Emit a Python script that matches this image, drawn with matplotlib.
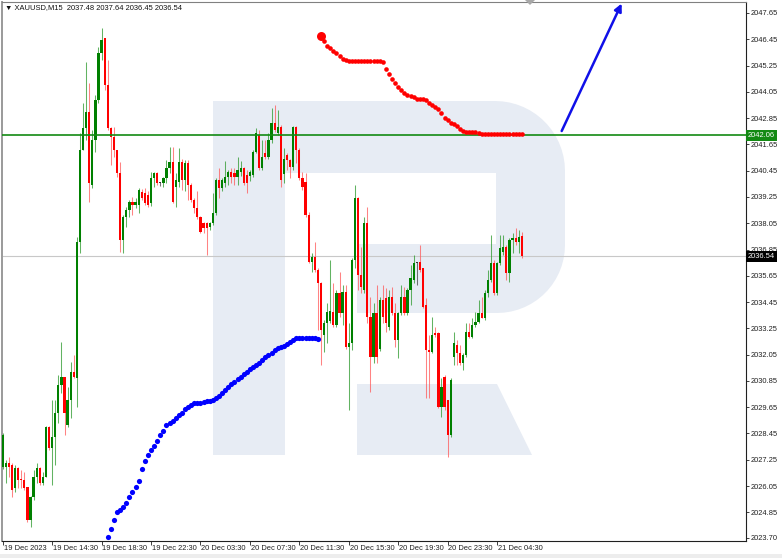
import numpy as np
import matplotlib
matplotlib.use('Agg')
import matplotlib.pyplot as plt
from matplotlib.patches import PathPatch, Polygon, Rectangle
from matplotlib.path import Path
import matplotlib.transforms as mtransforms

plt.rcParams['font.family'] = ['Liberation Sans', 'DejaVu Sans']

# ---------------- data ----------------
symbol_header = "\u25BC XAUUSD,M15  2037.48 2037.64 2036.45 2036.54"

opens = [
    2026.93, 2026.93, 2027.09, 2027.01, 2025.94, 2026.86, 2026.38, 2026.33, 2026.02, 2024.50,
    2025.56, 2026.48, 2026.86, 2026.17, 2026.48, 2028.76, 2027.77, 2028.30, 2029.37, 2030.66,
    2031.04, 2028.84, 2029.98, 2031.27, 2030.97, 2037.21, 2041.39, 2042.38, 2043.14, 2039.80,
    2041.85, 2043.68, 2045.81, 2046.49, 2044.36, 2042.38, 2042.00, 2041.39, 2040.33, 2037.28,
    2038.35, 2038.65, 2039.03, 2038.88, 2038.88, 2039.49, 2039.42, 2039.34, 2038.96, 2040.10,
    2040.33, 2039.87, 2039.87, 2040.10, 2040.56, 2040.86, 2039.72, 2039.95, 2040.86, 2040.02,
    2040.79, 2039.80, 2039.11, 2038.73, 2038.35, 2038.04, 2038.04, 2037.89, 2038.04, 2038.50,
    2040.02, 2039.64, 2039.87, 2040.15, 2040.40, 2040.36, 2040.17, 2040.40, 2040.56, 2040.25,
    2040.21, 2040.25, 2041.32, 2042.08, 2040.56, 2041.24, 2041.09, 2041.85, 2042.61, 2042.16,
    2042.46, 2040.30, 2041.17, 2040.94, 2040.60, 2042.46, 2041.40, 2040.10, 2039.94, 2038.42,
    2036.29, 2036.52, 2035.91, 2035.30, 2032.94, 2033.48, 2033.60, 2034.01, 2033.40, 2034.85,
    2033.94, 2034.93, 2032.41, 2032.56, 2036.37, 2039.18, 2035.68, 2035.00, 2038.04, 2033.78,
    2031.95, 2033.93, 2032.30, 2034.54, 2034.62, 2033.33, 2034.70, 2033.94, 2032.72, 2033.94,
    2034.70, 2033.94, 2035.00, 2035.46, 2036.22, 2036.30, 2035.99, 2034.32, 2032.26, 2032.19,
    2033.03, 2033.03, 2029.68, 2031.05, 2029.98, 2028.38, 2031.96, 2032.49, 2032.11, 2031.65,
    2032.03, 2033.10, 2032.87, 2033.41, 2033.56, 2033.94, 2033.71, 2034.85, 2035.46, 2036.22,
    2034.85, 2036.22, 2036.75, 2036.98, 2035.76, 2037.29, 2037.36, 2037.21, 2037.48]

highs = [
    2028.45, 2027.24, 2027.39, 2027.10, 2027.01, 2026.93, 2026.78, 2026.71, 2026.02, 2025.60,
    2026.78, 2027.09, 2026.93, 2026.71, 2028.80, 2028.80, 2029.98, 2029.98, 2031.12, 2032.64,
    2031.04, 2030.59, 2031.73, 2032.03, 2037.44, 2042.15, 2043.52, 2045.43, 2044.44, 2042.31,
    2043.91, 2046.11, 2046.95, 2046.49, 2045.50, 2042.46, 2042.46, 2041.39, 2040.86, 2038.43,
    2038.81, 2039.11, 2039.26, 2039.19, 2039.64, 2039.60, 2039.64, 2039.50, 2040.40, 2040.40,
    2040.40, 2039.95, 2040.15, 2040.94, 2041.55, 2041.55, 2040.33, 2041.47, 2041.00, 2040.94,
    2040.94, 2039.88, 2039.20, 2039.50, 2038.40, 2038.12, 2038.12, 2038.10, 2039.42, 2040.10,
    2040.55, 2040.10, 2040.91, 2040.48, 2040.56, 2040.56, 2041.09, 2040.90, 2040.60, 2040.48,
    2040.50, 2041.40, 2042.38, 2042.31, 2041.85, 2041.85, 2042.16, 2043.30, 2043.45, 2043.20,
    2042.55, 2041.47, 2041.25, 2041.00, 2042.50, 2042.50, 2041.47, 2040.40, 2040.32, 2038.58,
    2036.67, 2037.20, 2035.99, 2035.38, 2033.63, 2034.40, 2036.37, 2035.30, 2035.00, 2035.84,
    2035.24, 2035.24, 2033.48, 2036.44, 2039.79, 2039.26, 2036.98, 2038.35, 2038.80, 2034.69,
    2034.39, 2035.23, 2034.70, 2035.23, 2035.07, 2035.00, 2035.16, 2034.39, 2034.01, 2035.23,
    2035.16, 2035.10, 2036.14, 2036.60, 2036.30, 2037.06, 2036.00, 2034.62, 2032.95, 2033.79,
    2033.33, 2033.10, 2030.97, 2031.10, 2030.00, 2030.97, 2033.10, 2032.72, 2032.49, 2032.11,
    2033.48, 2033.48, 2033.71, 2034.01, 2034.55, 2034.70, 2035.00, 2035.92, 2037.52, 2036.37,
    2036.30, 2037.52, 2037.52, 2037.05, 2037.36, 2037.59, 2037.82, 2037.74, 2037.64]

lows = [
    2026.85, 2026.17, 2026.48, 2025.56, 2025.79, 2025.94, 2025.94, 2025.87, 2024.42, 2024.19,
    2025.41, 2026.17, 2026.10, 2026.10, 2026.45, 2027.70, 2026.10, 2027.01, 2028.91, 2030.28,
    2028.38, 2028.76, 2029.14, 2030.97, 2029.67, 2036.68, 2041.39, 2041.85, 2039.03, 2039.64,
    2041.32, 2043.52, 2045.50, 2044.13, 2042.31, 2040.71, 2041.09, 2040.18, 2036.75, 2036.68,
    2037.89, 2038.35, 2038.43, 2038.73, 2038.50, 2039.10, 2038.88, 2038.80, 2038.85, 2039.70,
    2039.80, 2039.75, 2039.70, 2039.87, 2040.33, 2038.96, 2038.80, 2039.72, 2039.57, 2039.50,
    2039.11, 2039.03, 2038.50, 2038.25, 2037.59, 2037.59, 2036.60, 2037.75, 2037.97, 2038.43,
    2039.19, 2039.50, 2039.72, 2039.80, 2039.87, 2039.80, 2039.80, 2040.20, 2039.80, 2039.42,
    2040.00, 2040.17, 2041.24, 2040.48, 2040.48, 2041.00, 2041.00, 2041.70, 2042.20, 2042.10,
    2039.72, 2039.90, 2040.48, 2040.10, 2040.50, 2040.78, 2040.02, 2039.56, 2038.35, 2036.22,
    2035.83, 2035.83, 2033.17, 2031.57, 2032.18, 2032.56, 2033.48, 2033.32, 2033.32, 2033.78,
    2033.40, 2032.33, 2029.52, 2032.26, 2035.99, 2035.00, 2034.85, 2034.85, 2033.48, 2030.36,
    2031.65, 2031.65, 2032.20, 2033.48, 2033.10, 2033.18, 2033.86, 2032.42, 2031.88, 2033.86,
    2033.86, 2033.86, 2034.32, 2035.31, 2035.23, 2035.84, 2034.17, 2030.06, 2030.06, 2032.11,
    2032.87, 2029.60, 2029.22, 2029.52, 2027.39, 2028.31, 2031.58, 2031.58, 2031.58, 2031.35,
    2031.96, 2032.80, 2032.80, 2033.33, 2033.48, 2033.70, 2033.63, 2034.70, 2035.38, 2034.78,
    2034.78, 2036.15, 2036.60, 2035.46, 2035.38, 2036.68, 2037.06, 2036.68, 2036.45]

closes = [
    2028.38, 2027.09, 2026.93, 2025.87, 2026.86, 2026.33, 2026.33, 2025.94, 2024.50, 2025.56,
    2026.48, 2026.86, 2026.17, 2026.48, 2028.76, 2027.77, 2028.30, 2029.37, 2030.66, 2031.04,
    2029.37, 2029.98, 2031.27, 2031.04, 2037.21, 2041.39, 2042.38, 2043.14, 2039.87, 2041.85,
    2043.68, 2045.81, 2046.42, 2044.36, 2042.38, 2042.00, 2041.39, 2040.33, 2037.28, 2038.35,
    2038.65, 2039.03, 2038.88, 2039.03, 2039.57, 2039.19, 2038.96, 2038.88, 2040.10, 2040.33,
    2039.87, 2039.87, 2040.10, 2040.56, 2040.86, 2039.03, 2040.02, 2040.86, 2040.02, 2040.79,
    2039.80, 2039.11, 2038.73, 2038.35, 2037.67, 2037.82, 2037.82, 2038.04, 2038.50, 2040.02,
    2039.64, 2040.02, 2040.15, 2040.40, 2040.15, 2040.17, 2040.48, 2040.56, 2039.87, 2039.87,
    2040.40, 2041.32, 2042.16, 2040.56, 2041.09, 2041.09, 2041.85, 2042.61, 2042.31, 2042.46,
    2040.02, 2041.00, 2040.94, 2040.60, 2042.46, 2041.40, 2040.10, 2039.72, 2038.42, 2036.29,
    2036.52, 2035.91, 2035.30, 2033.17, 2033.48, 2034.01, 2034.05, 2033.40, 2034.85, 2033.94,
    2034.93, 2032.41, 2032.56, 2036.37, 2039.18, 2035.68, 2035.15, 2038.04, 2033.78, 2031.95,
    2033.93, 2031.95, 2034.54, 2033.78, 2033.50, 2034.70, 2033.94, 2032.72, 2033.94, 2034.70,
    2033.94, 2035.00, 2035.54, 2036.22, 2036.22, 2035.92, 2034.24, 2032.26, 2032.19, 2032.95,
    2032.95, 2029.68, 2030.59, 2029.68, 2028.38, 2030.89, 2032.57, 2032.11, 2031.65, 2032.03,
    2033.10, 2032.87, 2033.41, 2033.56, 2033.94, 2033.71, 2034.85, 2035.46, 2036.22, 2034.85,
    2036.22, 2036.91, 2036.98, 2035.76, 2037.29, 2037.36, 2037.21, 2037.44, 2036.54]

# blue projection dots (start at bar 34)
blue_start = 34
blue_dots = [
    2023.72, 2024.08, 2024.50, 2024.86, 2024.95, 2025.09, 2025.27, 2025.55, 2025.77, 2026.00,
    2026.28, 2026.82, 2027.19, 2027.46, 2027.69, 2027.87, 2028.10, 2028.38, 2028.56, 2028.83,
    2028.92, 2029.02, 2029.15, 2029.29, 2029.38, 2029.56, 2029.66, 2029.75, 2029.84, 2029.84,
    2029.84, 2029.88, 2029.93, 2029.93, 2029.98, 2030.07, 2030.16, 2030.29, 2030.43, 2030.57,
    2030.71, 2030.80, 2030.93, 2031.03, 2031.16, 2031.25, 2031.39, 2031.48, 2031.57, 2031.66,
    2031.80, 2031.94, 2032.03, 2032.12, 2032.26, 2032.35, 2032.40, 2032.44, 2032.53, 2032.62,
    2032.71, 2032.81, 2032.81, 2032.81, 2032.81, 2032.81, 2032.81, 2032.81, 2032.76]

# red dots (start at bar 103)
red_start = 103
red_dots = [
    2046.60, 2046.35, 2046.16, 2046.06, 2045.91, 2045.82, 2045.68, 2045.57, 2045.50,
    2045.47, 2045.47, 2045.47, 2045.47, 2045.47, 2045.47, 2045.47, 2045.47, 2045.47, 2045.47, 2045.47,
    2045.39, 2045.09, 2044.86, 2044.63, 2044.47, 2044.27, 2044.11, 2043.99, 2043.90, 2043.86,
    2043.80, 2043.72, 2043.71, 2043.71, 2043.67, 2043.56, 2043.45, 2043.35, 2043.26, 2043.06,
    2042.87, 2042.74, 2042.62, 2042.56, 2042.49, 2042.35, 2042.24, 2042.21, 2042.21, 2042.21,
    2042.20, 2042.17, 2042.12,
    2042.11, 2042.11, 2042.11, 2042.11, 2042.11, 2042.11, 2042.11, 2042.11, 2042.11, 2042.11,
    2042.11, 2042.11, 2042.11]

level_price = 2042.06
last_price = 2036.54

# forecast arrow (bar index, price)
arrow_start = (180.9, 2042.26)
arrow_end = (200.3, 2048.08)

ytick_values = [2047.65, 2046.45, 2045.25, 2044.05, 2042.85, 2041.65, 2040.45, 2039.25,
                2038.05, 2036.85, 2035.65, 2034.45, 2033.25, 2032.05, 2030.85, 2029.65,
                2028.45, 2027.25, 2026.05, 2024.85, 2023.70]
xtick_bars = [0, 16, 32, 48, 64, 80, 96, 112, 128, 144, 160]
xtick_labels = ["19 Dec 2023", "19 Dec 14:30", "19 Dec 18:30", "19 Dec 22:30",
                "20 Dec 03:30", "20 Dec 07:30", "20 Dec 11:30", "20 Dec 15:30",
                "20 Dec 19:30", "20 Dec 23:30", "21 Dec 04:30"]

# ---------------- figure ----------------
W, H = 782, 558
fig = plt.figure(figsize=(W / 100, H / 100), dpi=100)
ax = fig.add_axes([2 / W, 1 - 540.5 / H, (746 - 2) / W, (540.5 - 2) / H])
ax.set_xlim(-0.23, 240.55)
ax.set_ylim(2023.564, 2048.15)
ax.set_facecolor('white')


def P(x, y):
    return (x / W, 1 - y / H)

# watermark "R" logo
wm = '#e7ecf4'
verts = [P(213, 101), P(495, 101)]
for t in np.linspace(0, np.pi / 2, 16)[1:]:
    verts.append(P(495 + 70 * np.sin(t), 171 - 70 * np.cos(t)))
verts.append(P(565, 245))
for t in np.linspace(0, np.pi / 2, 16)[1:]:
    verts.append(P(497 + 68 * np.cos(t), 245 + 68 * np.sin(t)))
verts += [P(357, 313), P(357, 244), P(496, 244), P(496, 173), P(285, 173),
          P(285, 455), P(213, 455), P(213, 101)]
codes = [Path.MOVETO] + [Path.LINETO] * (len(verts) - 2) + [Path.CLOSEPOLY]
ax.add_patch(PathPatch(Path(verts, codes), transform=fig.transFigure,
                       fc=wm, ec='none', zorder=0))
ax.add_patch(Polygon([P(357, 384), P(497, 384), P(532, 455), P(357, 455)],
                     closed=True, transform=fig.transFigure, fc=wm, ec='none', zorder=0))

# candles
o = np.array(opens); h = np.array(highs); l = np.array(lows); c = np.array(closes)
x = np.arange(len(o))
up = c > o
dn = c < o
wick_col = np.where(up, '#2e9a2e', np.where(dn, '#ff5a5a', '#444444'))
ax.vlines(x, l, h, colors=wick_col, linewidth=0.75, alpha=0.75, zorder=2)
body_lo = np.minimum(o, c)
body_h = np.maximum(np.abs(c - o), 0.06)
body_col = np.where(up, '#008000', np.where(dn, '#ff0000', '#333333'))
ax.bar(x, body_h, bottom=body_lo, width=0.72, color=body_col, linewidth=0, zorder=3)

# horizontal lines
ax.axhline(last_price, color='#c8c8c8', lw=0.8, zorder=1)
ax.axhline(level_price, color='#138a13', lw=1.2, zorder=4)

# dots
bx = np.arange(blue_start, blue_start + len(blue_dots))
ax.scatter(bx, blue_dots, s=14, color='#0000ff', linewidths=0, zorder=5)
rx = np.arange(red_start, red_start + len(red_dots))
ax.scatter(rx[1:], red_dots[1:], s=11, color='#ff0000', linewidths=0, zorder=5)
ax.scatter(rx[:1], red_dots[:1], s=42, color='#ff0000', linewidths=0, zorder=5)

# arrow
ax.annotate('', xy=arrow_end, xytext=arrow_start,
            arrowprops=dict(arrowstyle='-|>', color='#1010e8', lw=1.8,
                            mutation_scale=11, shrinkA=0, shrinkB=0),
            annotation_clip=False, zorder=6)

# axes styling
for side in ['bottom', 'right']:
    ax.spines[side].set_color('#202020')
    ax.spines[side].set_linewidth(0.8)
ax.spines['left'].set_color('#9a9a9a')
ax.spines['left'].set_linewidth(1.4)
ax.spines['top'].set_color('#808080')
ax.spines['top'].set_linewidth(0.8)

ax.yaxis.tick_right()
ax.set_yticks(ytick_values)
ax.set_yticklabels([f'{v:.2f}' for v in ytick_values])
ax.tick_params(axis='y', which='both', length=2.4, width=0.6, pad=1.3,
               labelsize=5.4, colors='#202020', left=False, right=True)
ax.set_xticks(xtick_bars)
ax.set_xticklabels(xtick_labels, ha='left')
ax.tick_params(axis='x', length=2.6, width=0.6, pad=1.0, labelsize=5.4, colors='#202020')
offset = mtransforms.ScaledTranslation(0.8 / 100, 0, fig.dpi_scale_trans)
for lbl in ax.get_xticklabels():
    lbl.set_transform(lbl.get_transform() + offset)

# price labels on the scale
for val, bg in [(level_price, '#138a13'), (last_price, '#000000')]:
    ax.text(1.0025, val, f'{val:.2f}', transform=ax.get_yaxis_transform(),
            ha='left', va='center', fontsize=5.4, color='white',
            bbox=dict(boxstyle='square,pad=0.25', fc=bg, ec='none'),
            clip_on=False, zorder=10)

# header
fig.text(5 / W, 1 - 8 / H, symbol_header, fontsize=5.4, va='center', ha='left', color='#101010')

# chart-shift marker and bottom strip
fig.patches.append(Polygon([P(525, 0), P(535, 0), P(530, 5)], closed=True,
                           transform=fig.transFigure, fc='#a8a8a8', ec='none'))
fig.patches.append(Rectangle((0, 0), 1, 4 / H, transform=fig.transFigure,
                             fc='#ededed', ec='none'))

fig.savefig('out.png', dpi=100)
